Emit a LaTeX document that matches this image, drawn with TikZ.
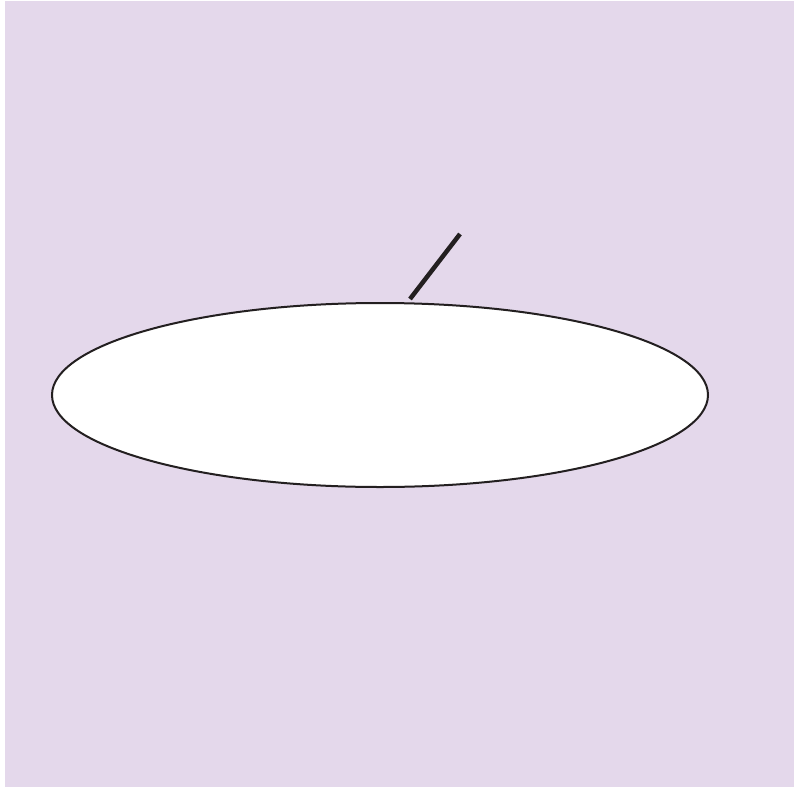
\documentclass[tikz,border=0pt]{standalone}
\usepackage{tikz}
\usetikzlibrary{calc}
\usepackage{xcolor}

\definecolor{bgpurple}{HTML}{E4D8EB}
\definecolor{inkblack}{HTML}{231F20}

\begin{document}
\begin{tikzpicture}[x=1pt,y=-1pt]
  % Page frame
  \useasboundingbox (0,0) rectangle (795,787);
  \fill[white] (0,0) rectangle (795,787);

  % Background panel
  \fill[bgpurple] (5,1) rectangle (794,787);

  % Ellipse
  \draw[inkblack, line width=2pt, fill=white] (380,395) ellipse (328 and 92);

  % Short stroke above the ellipse
  \coordinate (top) at (460,234);
  \coordinate (foot) at (410,299);
  \draw[inkblack, line width=4.5pt] (foot) -- (top);

\end{tikzpicture}
\end{document}
